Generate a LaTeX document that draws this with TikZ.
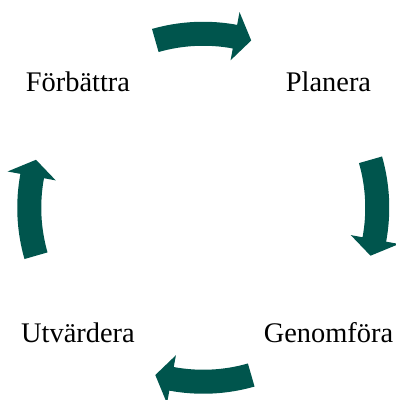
\documentclass[tikz,border=0pt]{standalone}
\usepackage{fontspec}
\setmainfont{Liberation Serif}
\definecolor{cycleteal}{RGB}{0,85,77}
\tikzset{arrowfill/.style={fill=cycleteal}}
% one curved block arrow of the cycle, #1 = angle of its middle
\newcommand{\cyclearrow}[1]{%
  \fill[arrowfill, shift={(mid)}] (#1+16:186pt)
    arc[start angle=#1+16, end angle=#1-10.5, radius=186pt]
    -- (#1-10.5:199pt) -- (#1-16:174pt) -- (#1-10.5:150pt) -- (#1-10.5:162pt)
    arc[start angle=#1-10.5, end angle=#1+16, radius=162pt] -- cycle;}

\begin{document}
\begin{tikzpicture}[node distance=250.5pt, font=\fontsize{28.4}{30}\selectfont,
  every node/.style={text height=20pt, text depth=1pt, inner sep=0pt}]
\useasboundingbox (0,0) rectangle (396pt,400pt);
\node (forb) at (78pt,317.5pt) {Förbättra};
\node (plan) [right of=forb] {Planera};
\node (genom) [below of=plan] {Genomföra};
\node (utv) [below of=forb] {Utvärdera};
\path (forb) -- (genom) coordinate[midway] (mid);
\foreach \a in {90,0,-90,180} {\cyclearrow{\a}}
\end{tikzpicture}
\end{document}
